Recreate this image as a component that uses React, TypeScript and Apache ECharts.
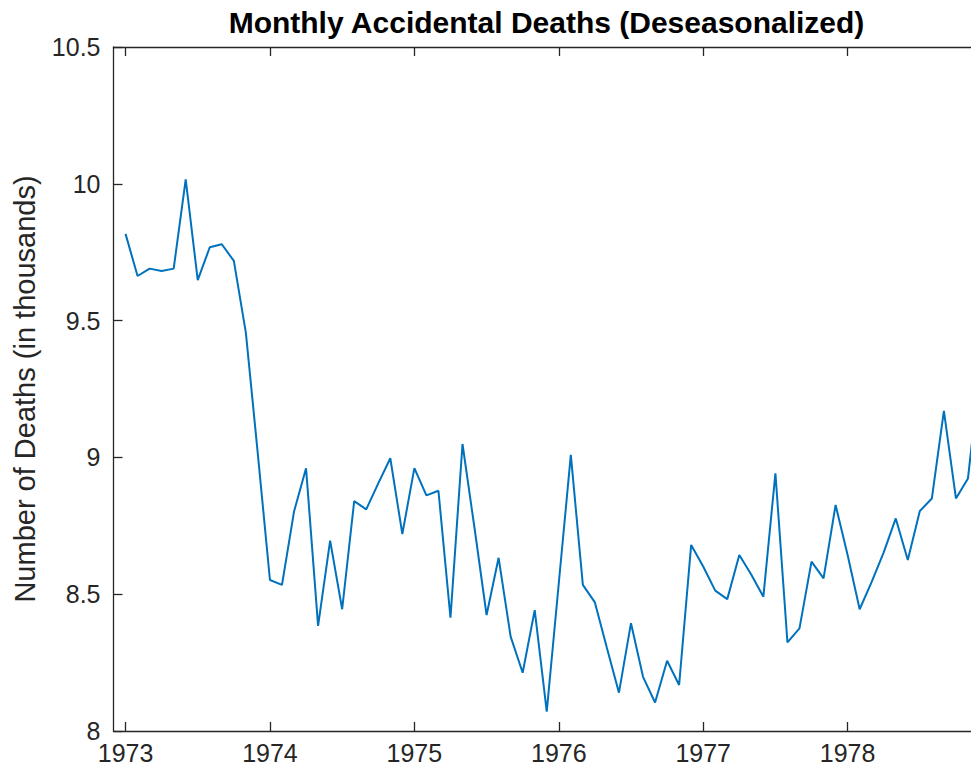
import React, { useEffect, useRef } from "react";
import * as echarts from "echarts";

const startYear = 1973;
const yearTicks = [1973, 1974, 1975, 1976, 1977, 1978];
const deaths = [
  9.817, 9.663, 9.69, 9.681, 9.69, 10.016, 9.648, 9.768, 9.779, 9.718, 9.455, 9.009,
  8.552, 8.534, 8.802, 8.96, 8.384, 8.696, 8.445, 8.84, 8.81, 8.905, 8.997, 8.72,
  8.961, 8.861, 8.878, 8.414, 9.049, 8.741, 8.424, 8.633, 8.345, 8.213, 8.442, 8.071,
  8.54, 9.009, 8.534, 8.47, 8.303, 8.14, 8.394, 8.198, 8.104, 8.257, 8.168, 8.68,
  8.601, 8.513, 8.482, 8.643, 8.571, 8.491, 8.942, 8.324, 8.375, 8.619, 8.558, 8.826,
  8.643, 8.445, 8.545, 8.653, 8.777, 8.625, 8.804, 8.85, 9.17, 8.85, 8.923, 9.32,
];
const xMin = 1972 + 11 / 12;
const xMax = 1978 + 11 / 12;
const yMin = 8;
const yMax = 10.5;
const yStep = 0.5;

const AX = "#262626";
const FONT = "'Liberation Sans', Arial, Helvetica, sans-serif";

export default function App() {
  const ref = useRef<HTMLDivElement>(null);
  useEffect(() => {
    if (!ref.current) return;
    const chart = echarts.init(ref.current, undefined, { renderer: "svg" });
    const data = deaths.map((v, i) => [startYear + i / 12, v]);
    const axisLine = { show: true, lineStyle: { color: AX, width: 1.3 } };
    const tickStyle = { color: AX, width: 1.3 };
    chart.setOption({
      animation: false,
      backgroundColor: "#ffffff",
      title: {
        text: "Monthly Accidental Deaths (Deseasonalized)",
        left: "center",
        top: 2,
        textStyle: { fontFamily: FONT, fontSize: 30, fontWeight: "bold", color: "#000" },
      },
      grid: { left: 113.5, top: 47, right: 113, bottom: 43, containLabel: false },
      xAxis: [
        {
          type: "value",
          min: xMin,
          max: xMax,
          position: "bottom",
          axisLine,
          splitLine: { show: false },
          axisTick: { show: true, inside: true, length: 9, customValues: yearTicks, lineStyle: tickStyle },
          axisLabel: {
            show: true,
            customValues: yearTicks,
            margin: 9,
            fontSize: 25,
            fontFamily: FONT,
            color: AX,
            formatter: (v: number) => String(Math.round(v)),
          },
        },
        {
          type: "value",
          min: xMin,
          max: xMax,
          position: "top",
          axisLine,
          splitLine: { show: false },
          axisTick: { show: true, inside: true, length: 9, customValues: yearTicks, lineStyle: tickStyle },
          axisLabel: { show: false },
        },
      ],
      yAxis: [
        {
          type: "value",
          min: yMin,
          max: yMax,
          interval: yStep,
          position: "left",
          axisLine,
          splitLine: { show: false },
          axisTick: { show: true, inside: true, length: 9, lineStyle: tickStyle },
          axisLabel: { margin: 13, fontSize: 25, fontFamily: FONT, color: AX },
          name: "Number of Deaths (in thousands)",
          nameLocation: "middle",
          nameGap: 74,
          nameTextStyle: { fontSize: 29, fontFamily: FONT, color: AX },
        },
        {
          type: "value",
          min: yMin,
          max: yMax,
          interval: yStep,
          position: "right",
          axisLine,
          splitLine: { show: false },
          axisTick: { show: true, inside: true, length: 9, lineStyle: tickStyle },
          axisLabel: { show: false },
        },
      ],
      series: [
        {
          type: "line",
          xAxisIndex: 0,
          yAxisIndex: 0,
          data,
          showSymbol: false,
          symbol: "none",
          clip: true,
          lineStyle: { color: "#0072BD", width: 2 },
        },
      ],
    });
    return () => chart.dispose();
  }, []);
  return (
    <div
      style={{
        position: "fixed",
        left: 0,
        top: 0,
        width: 971,
        height: 774,
        overflow: "hidden",
        background: "#fff",
      }}
    >
      <div ref={ref} style={{ width: 1092.5, height: 774 }} />
    </div>
  );
}
